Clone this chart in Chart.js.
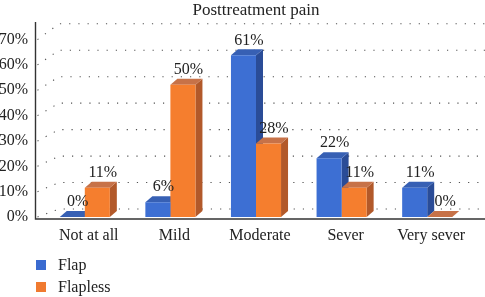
<!DOCTYPE html>
<html>
<head>
<meta charset="utf-8">
<script src="https://cdn.jsdelivr.net/npm/chart.js@4.4.1/dist/chart.umd.min.js"></script>
<style>
  html, body { margin: 0; padding: 0; background: #ffffff; }
  #wrap { position: relative; width: 485px; height: 297px; overflow: hidden; }
  #legend { position: absolute; left: 36px; top: 254px; font-family: "Liberation Serif", serif; font-size: 16px; color: #222; }
  .li { display: flex; align-items: center; height: 22px; }
  .sw { width: 10px; height: 10px; margin-right: 12px; }
</style>
</head>
<body>
<div id="wrap">
  <canvas id="c" width="485" height="297"></canvas>
  <div id="legend"></div>
</div>
<script>
// ---- data ----
const categories = ['Not at all', 'Mild', 'Moderate', 'Sever', 'Very sever'];
const flap = [0, 5.6, 61.1, 22.2, 11.1];
const flapless = [11.1, 50, 27.8, 11.1, 0];
const yTickValues = [0, 10, 20, 30, 40, 50, 60, 70];
const seriesNames = ['Flap', 'Flapless'];

// ---- styles ----
const FONT = '"Liberation Serif", "DejaVu Serif", serif';
const COLORS = [
  { front: '#3d6fd3', side: '#2a4c97', top: '#3760b4', legend: '#3a6bd0' },
  { front: '#f57e2e', side: '#b2592a', top: '#c77248', legend: '#f07a30' }
];
const DX = 7, DY = -6;

const threeD = {
  id: 'threeD',
  beforeDatasetsDraw(chart) {
    const ctx = chart.ctx;
    const ys = chart.scales.y, yl = chart.scales.yl;
    const axisX = 35.5, wallX = 59;
    ctx.save();
    ctx.strokeStyle = 'rgba(50,50,50,0.85)';
    ctx.lineWidth = 1.1;
    ctx.setLineDash([1.2, 8]);
    yTickValues.forEach(v => {
      const fy = yl.getPixelForValue(v) + 1;
      const by = ys.getPixelForValue(v) - 8;
      ctx.beginPath();
      ctx.moveTo(axisX + 2, fy - 1);
      ctx.lineTo(wallX, by);
      ctx.lineTo(chart.width, by);
      ctx.stroke();
    });
    ctx.restore();
    chart.data.datasets.forEach((ds, di) => {
      const meta = chart.getDatasetMeta(di);
      const col = COLORS[di];
      meta.data.forEach(el => {
        const p = el.getProps(['x', 'y', 'base', 'width'], true);
        const l = p.x - p.width / 2, r = p.x + p.width / 2;
        const t = p.y, b = p.base;
        ctx.save();
        ctx.fillStyle = col.side;
        ctx.beginPath();
        ctx.moveTo(r, t); ctx.lineTo(r + DX, t + DY); ctx.lineTo(r + DX, b + DY); ctx.lineTo(r, b);
        ctx.closePath(); ctx.fill();
        ctx.fillStyle = col.top;
        ctx.beginPath();
        ctx.moveTo(l, t); ctx.lineTo(l + DX, t + DY); ctx.lineTo(r + DX, t + DY); ctx.lineTo(r, t);
        ctx.closePath(); ctx.fill();
        ctx.restore();
      });
    });
  },
  afterDatasetsDraw(chart) {
    const ctx = chart.ctx;
    ctx.save();
    ctx.font = '16px ' + FONT;
    ctx.fillStyle = '#222';
    ctx.textAlign = 'center';
    ctx.textBaseline = 'middle';
    chart.data.datasets.forEach((ds, di) => {
      const meta = chart.getDatasetMeta(di);
      meta.data.forEach((el, i) => {
        const p = el.getProps(['x', 'y'], true);
        ctx.fillText(Math.round(ds.data[i]) + '%', p.x + DX / 2 + 2, p.y + DY - 9);
      });
    });
    ctx.strokeStyle = '#333';
    ctx.lineWidth = 1.4;
    ctx.beginPath();
    ctx.moveTo(35.5, 22); ctx.lineTo(35.5, 219);
    ctx.lineTo(chart.width, 219);
    ctx.stroke();
    ctx.restore();
  }
};

new Chart(document.getElementById('c'), {
  type: 'bar',
  data: {
    labels: categories,
    datasets: [
      { label: seriesNames[0], data: flap, backgroundColor: COLORS[0].front, yAxisID: 'y', barPercentage: 1, categoryPercentage: 0.585 },
      { label: seriesNames[1], data: flapless, backgroundColor: COLORS[1].front, yAxisID: 'y', barPercentage: 1, categoryPercentage: 0.585 }
    ]
  },
  options: {
    responsive: false,
    animation: false,
    layout: { padding: { top: 0, left: 0, right: 15, bottom: 0 } },
    plugins: {
      legend: { display: false },
      tooltip: { enabled: false },
      title: {
        display: true, text: 'Posttreatment pain', fullSize: false,
        font: { family: FONT, size: 17, weight: 'normal', lineHeight: 1 }, color: '#222',
        padding: { top: 0, bottom: 5 }
      }
    },
    scales: {
      x: {
        grid: { display: false, drawTicks: false }, border: { display: false },
        afterFit: axis => { axis.height = 80; },
        ticks: { font: { family: FONT, size: 16 }, color: '#222', padding: 9, labelOffset: 4, maxRotation: 0 }
      },
      y: { display: false, min: 0, max: 73.1 },
      yl: {
        type: 'linear', position: 'left', min: 0, max: 76.3,
        afterBuildTicks: axis => { axis.ticks = yTickValues.map(v => ({ value: v })); },
        afterFit: axis => { axis.width = 42; },
        grid: { display: false, drawTicks: false }, border: { display: false },
        ticks: { font: { family: FONT, size: 16 }, color: '#222', padding: 14, callback: v => v + '%' }
      }
    }
  },
  plugins: [threeD]
});

const lg = document.getElementById('legend');
seriesNames.forEach((n, i) => {
  const d = document.createElement('div');
  d.className = 'li';
  d.innerHTML = '<span class="sw" style="background:' + COLORS[i].legend + '"></span><span>' + n + '</span>';
  lg.appendChild(d);
});
</script>
</body>
</html>
